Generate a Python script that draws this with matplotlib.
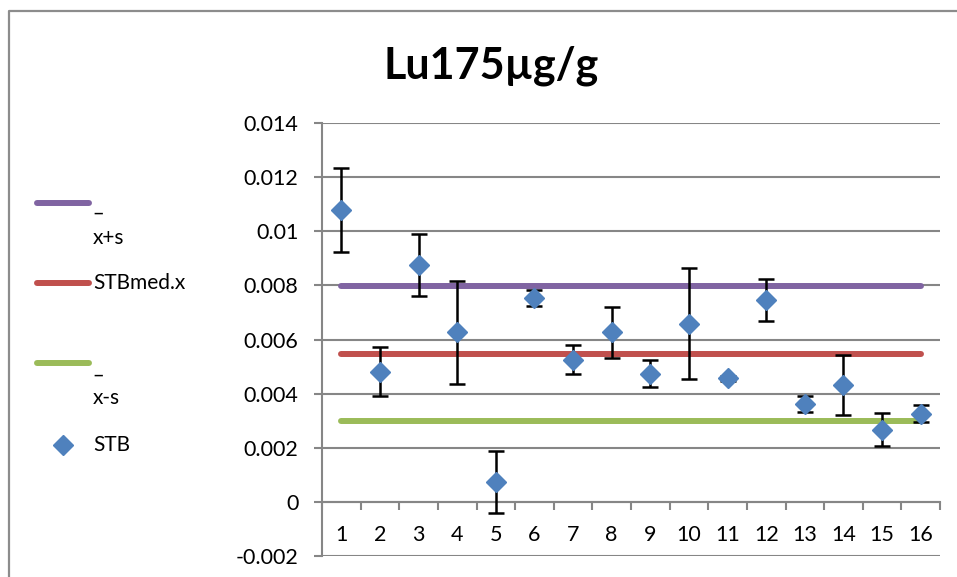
import numpy as np
import matplotlib
matplotlib.use("Agg")
import matplotlib.pyplot as plt
from matplotlib.lines import Line2D

plt.rcParams['font.family'] = ['Lato', 'DejaVu Sans']
plt.rcParams['axes.unicode_minus'] = False

# Измерения STB по образцам
samples = list(range(1, 17))
stb = [0.01078, 0.00481, 0.00874, 0.00626, 0.00074, 0.00752, 0.00526, 0.00626,
       0.00474, 0.00659, 0.00456, 0.00745, 0.00363, 0.00433, 0.00267, 0.00326]
stb_err = [0.00155, 0.00090, 0.00115, 0.00192, 0.00115, 0.00030, 0.00054, 0.00095,
           0.00050, 0.00205, 0.00010, 0.00078, 0.00030, 0.00111, 0.00061, 0.00032]

# Среднее и границы среднее ± s
mean_x = 0.00548
upper = 0.00796
lower = 0.00300

y_ticks = [-0.002, 0, 0.002, 0.004, 0.006, 0.008, 0.01, 0.012, 0.014]
y_labels = ['-0.002', '0', '0.002', '0.004', '0.006', '0.008', '0.01', '0.012', '0.014']

W, H = 957, 577
fig = plt.figure(figsize=(W / 100, H / 100), dpi=100)
ax = fig.add_axes([322 / W, 1 - 556 / H, (940 - 322) / W, (556 - 123) / H])

grey = '#868686'
purple = '#8064A2'
red = '#C0504D'
green = '#9BBB59'
blue = '#4F81BD'

# Горизонтальные уровни
x_line = [samples[0], samples[-1]]
ax.plot(x_line, [upper] * 2, color=purple, lw=4.3, solid_capstyle='round', zorder=3)
ax.plot(x_line, [mean_x] * 2, color=red, lw=4.3, solid_capstyle='round', zorder=3)
ax.plot(x_line, [lower] * 2, color=green, lw=4.3, solid_capstyle='round', zorder=3)

# Точки с погрешностями
ax.errorbar(samples, stb, yerr=stb_err, fmt='none', ecolor='black', elinewidth=1.8,
            capsize=5.5, capthick=1.8, zorder=4)
ax.plot(samples, stb, 'D', color=blue, ms=10, mec=blue, zorder=5)

ax.set_xlim(0.5, 16.5)
ax.set_ylim(-0.002, 0.014)
ax.set_yticks(y_ticks)
ax.set_yticklabels(y_labels)
ax.yaxis.grid(True, color=grey, lw=1.5)
ax.set_axisbelow(True)

# Ось категорий проходит через ноль
ax.spines['bottom'].set_position(('data', 0))
ax.spines['bottom'].set_color(grey)
ax.spines['bottom'].set_linewidth(1.5)
ax.spines['left'].set_color(grey)
ax.spines['left'].set_linewidth(1.5)
ax.spines['top'].set_visible(False)
ax.spines['right'].set_visible(False)

ax.set_xticks(np.arange(0.5, 17, 1))
ax.set_xticklabels([])
ax.set_xticks(samples, minor=True)
ax.set_xticklabels([str(s) for s in samples], minor=True)
ax.tick_params(axis='x', which='major', direction='out', length=6, width=1.5, color=grey)
ax.tick_params(axis='x', which='minor', length=0, pad=17, labelsize=15.5)
ax.tick_params(axis='y', direction='out', length=6, width=1.5, color=grey, pad=11, labelsize=15.5)

fig.text(491 / W, 1 - 66 / H, 'Lu175µg/g', ha='center', va='center',
         fontsize=31, fontweight='bold')

# Легенда слева
def fx(px):
    return px / W

def fy(py):
    return 1 - py / H

for y, c in [(203, purple), (283, red), (363, green)]:
    fig.add_artist(Line2D([fx(37), fx(89)], [fy(y), fy(y)], color=c, lw=4.3,
                          solid_capstyle='round'))
fig.add_artist(Line2D([fx(63)], [fy(445)], marker='D', color=blue, ms=10))
leg_fs = 15
fig.text(fx(93), fy(211), '_', ha='left', va='baseline', fontsize=leg_fs)
fig.text(fx(93), fy(238), 'x+s', ha='left', va='center', fontsize=leg_fs)
fig.text(fx(93), fy(283), 'STBmed.x', ha='left', va='center', fontsize=leg_fs)
fig.text(fx(93), fy(373), '_', ha='left', va='baseline', fontsize=leg_fs)
fig.text(fx(93), fy(398), 'x-s', ha='left', va='center', fontsize=leg_fs)
fig.text(fx(93), fy(445), 'STB', ha='left', va='center', fontsize=leg_fs)

# Рамка области диаграммы
fig.add_artist(Line2D([fx(9), fx(9), fx(957)], [fy(577), fy(11), fy(11)],
                      color='#8c8c8c', lw=1.6))

fig.savefig('out.png', dpi=100)
